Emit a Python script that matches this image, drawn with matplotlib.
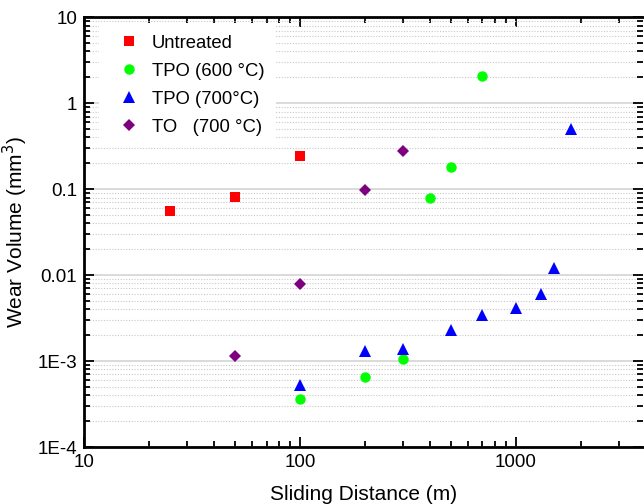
import matplotlib
matplotlib.use("Agg")
import matplotlib.pyplot as plt
from matplotlib.ticker import FixedLocator, LogLocator, NullFormatter

plt.rcParams['font.family'] = ['Liberation Sans', 'DejaVu Sans']

# Data
untreated_x = [25, 50, 100]
untreated_y = [0.055, 0.082, 0.245]

tpo600_x = [100, 200, 300, 400, 500, 700]
tpo600_y = [3.6e-4, 6.6e-4, 1.07e-3, 0.078, 0.181, 2.1]

tpo700_x = [100, 200, 300, 500, 700, 1000, 1300, 1500, 1800]
tpo700_y = [5.3e-4, 1.3e-3, 1.4e-3, 2.3e-3, 3.4e-3, 4.1e-3, 6.0e-3, 0.012, 0.5]

to700_x = [50, 100, 200, 300]
to700_y = [1.15e-3, 7.8e-3, 0.098, 0.275]

ytick_vals = [1e-4, 1e-3, 1e-2, 1e-1, 1, 10]
ytick_labels = ['1E-4', '1E-3', '0.01', '0.1', '1', '10']
xtick_vals = [10, 100, 1000]
xtick_labels = ['10', '100', '1000']

fig = plt.figure(figsize=(6.44, 5.04), dpi=100)
ax = fig.add_axes([84 / 644, 1 - 447 / 504, (643 - 84) / 644, (447 - 17.3) / 504])

ax.set_xscale('log')
ax.set_yscale('log')
ax.set_xlim(10, 3875)
ax.set_ylim(1e-4, 10)

# grid: solid major, dotted minor, horizontal only
ax.grid(True, which='major', axis='y', color='#d4d4d4', linestyle='-', linewidth=1.2)
ax.grid(True, which='minor', axis='y', color='#c8c8c8', linestyle=(0, (1, 1.5)), linewidth=0.8)
ax.set_axisbelow(True)

ax.plot(untreated_x, untreated_y, 's', color='#ff0000', ms=6.8, mew=0, label='Untreated')
ax.plot(tpo600_x, tpo600_y, 'o', color='#00ff00', ms=7.5, mew=0, label='TPO (600 °C)')
ax.plot(tpo700_x, tpo700_y, '^', color='#0000ff', ms=8.5, mew=0, label='TPO (700°C)')
ax.plot(to700_x, to700_y, 'D', color='#7f007f', ms=6.2, mew=0, label='TO   (700 °C)')

ax.yaxis.set_major_locator(FixedLocator(ytick_vals))
ax.set_yticklabels(ytick_labels)
ax.yaxis.set_minor_locator(LogLocator(base=10, subs=range(2, 10), numticks=20))
ax.yaxis.set_minor_formatter(NullFormatter())
ax.xaxis.set_major_locator(FixedLocator(xtick_vals))
ax.set_xticklabels(xtick_labels)
ax.xaxis.set_minor_locator(LogLocator(base=10, subs=range(2, 10), numticks=20))
ax.xaxis.set_minor_formatter(NullFormatter())

ax.tick_params(which='both', direction='in', top=True, right=True, labelsize=13.5, width=1.3)
ax.tick_params(which='major', length=7, pad=5)
ax.tick_params(which='minor', length=4)

for side in ['left', 'bottom', 'top']:
    ax.spines[side].set_linewidth(2)
ax.spines['right'].set_visible(False)

ax.set_xlabel('Sliding Distance (m)', fontsize=15, labelpad=10)
ax.set_ylabel('Wear Volume (mm$^3$)', fontsize=15, labelpad=5)

leg = ax.legend(loc='upper left', fontsize=13.3, frameon=True, fancybox=False,
                edgecolor='none', facecolor='white', framealpha=1,
                handlelength=2, handletextpad=0.25, labelspacing=0.59,
                borderpad=0.6, borderaxespad=0,
                bbox_to_anchor=(0.0276, 0.985), numpoints=1)

fig.savefig('out.png', dpi=100)
